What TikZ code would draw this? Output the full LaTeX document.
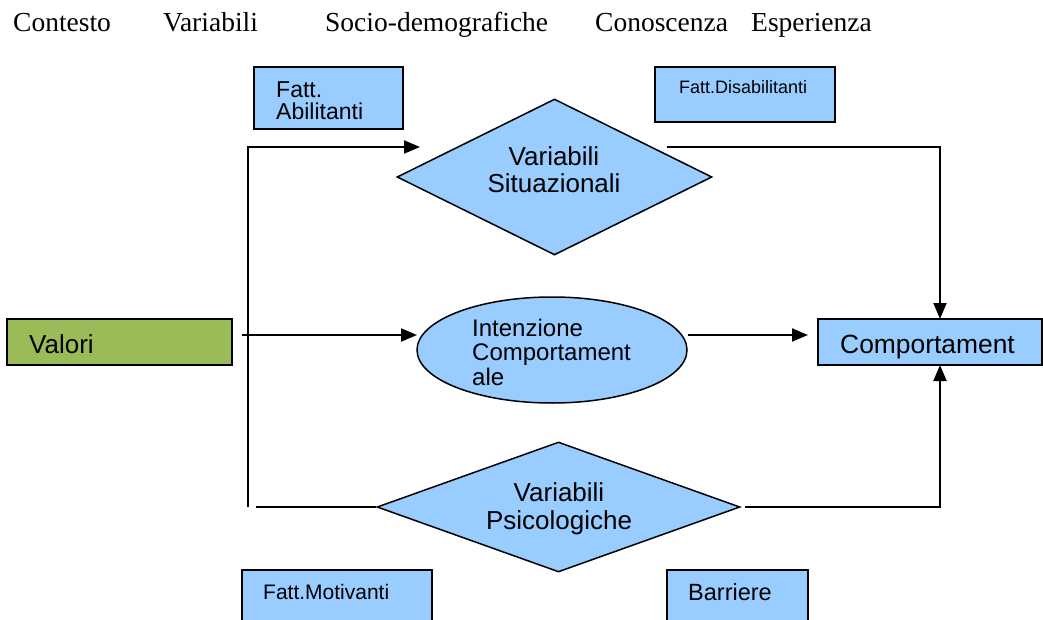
\documentclass[tikz,border=0pt]{standalone}
\usepackage{fontspec}
\setmainfont{Liberation Serif}
\setsansfont{Liberation Sans}
\usetikzlibrary{shapes.geometric,arrows.meta}
\definecolor{lblue}{RGB}{153,204,255}
\definecolor{lgreen}{RGB}{155,187,89}
\begin{document}
\begin{tikzpicture}[x=1pt,y=-1pt,
  shapebox/.style={draw=black,line width=1.5pt,fill=lblue,rectangle,inner sep=0pt},
  greenbox/.style={shapebox,fill=lgreen},
  dia/.style={draw=black,line width=1.5pt,fill=lblue,diamond,inner sep=0pt},
  ell/.style={draw=black,line width=1.5pt,fill=lblue,ellipse,inner sep=0pt},
  conn/.style={draw=black,line width=2pt},
  arr/.style={conn,-{Triangle[length=16pt,width=13pt]}},
  toptxt/.style={font=\fontsize{27.5}{32}\selectfont,inner sep=0pt,anchor=base west},
  lab/.style={inner sep=0pt,anchor=base west}
]
\useasboundingbox (0,0) rectangle (1043,620);
\clip (0,0) rectangle (1043,620);

% top words
\node[toptxt] (w1) at (13,32) {Contesto};
\node[toptxt] (w2) at (163,32) {Variabili};
\node[toptxt] (w3) at (325,32) {Socio-demografiche};
\node[toptxt] (w4) at (595,32) {Conoscenza};
\node[toptxt] (w5) at (751,32) {Esperienza};

% boxes
\node[shapebox,minimum width=149pt,minimum height=62pt] (fab) at (328.5,98) {};
\node[inner sep=0pt,anchor=west,align=left,font=\sffamily\fontsize{23}{22}\selectfont] (fabt) at (276,101) {Fatt.\\Abilitanti};

\node[shapebox,minimum width=180pt,minimum height=55pt] (fdis) at (745,94.5) {};
\node[lab,font=\sffamily\fontsize{18}{21}\selectfont] (fdist) at (679,94) {Fatt.Disabilitanti};

\node[greenbox,minimum width=225pt,minimum height=46pt] (val) at (119.5,342) {};
\node[lab,font=\sffamily\fontsize{26}{30}\selectfont] (valt) at (29,353) {Valori};

\node[shapebox,minimum width=224pt,minimum height=46pt] (cb) at (930,342) {};
\node[lab,font=\sffamily\fontsize{26.4}{30}\selectfont] (cbt) at (840,353) {Comportament};

\node[shapebox,minimum width=190pt,minimum height=70pt] (fmot) at (337,605) {};
\node[lab,font=\sffamily\fontsize{21}{25}\selectfont] (fmott) at (263,599) {Fatt.Motivanti};

\node[shapebox,minimum width=141pt,minimum height=70pt] (bar) at (737.5,605) {};
\node[lab,font=\sffamily\fontsize{23.5}{27}\selectfont] (bart) at (688,600) {Barriere};

% diamonds and ellipse
\node[dia,minimum width=315pt,minimum height=156pt] (vs) at (554.5,177) {};
\node[inner sep=0pt,align=center,font=\sffamily\fontsize{26}{27}\selectfont] (vst) at (554,170) {Variabili\\Situazionali};

\node[dia,minimum width=363pt,minimum height=130pt] (vp) at (558.5,507) {};
\node[inner sep=0pt,align=center,font=\sffamily\fontsize{26}{28}\selectfont] (vpt) at (559,508.5) {Variabili\\Psicologiche};

\node[ell,minimum width=270pt,minimum height=106pt] (ie) at (552,350) {};
\node[inner sep=0pt,anchor=west,align=left,font=\sffamily\fontsize{24}{24.5}\selectfont] (iet) at (472,352) {Intenzione\\Comportament\\ale};

% coordinates
\coordinate (jb) at (248,507);
\coordinate (t1) at (420,147);
\coordinate (s2) at (242,335);
\coordinate (t2) at (417,335);
\coordinate (s3) at (688,335);
\coordinate (t3) at (808,335);
\coordinate (s4) at (667,147);
\coordinate (t4) at (940,319);
\coordinate (s5) at (745,507);
\coordinate (t5) at (940,365);
\coordinate (s6) at (256,507);

% connectors
\draw[arr] (jb) |- (t1);
\draw[arr] (s2) -- (t2);
\draw[arr] (s3) -- (t3);
\draw[arr] (s4) -| (t4);
\draw[arr] (s5) -| (t5);
\draw[conn] (s6) -- (vp.west);
\end{tikzpicture}
\end{document}
